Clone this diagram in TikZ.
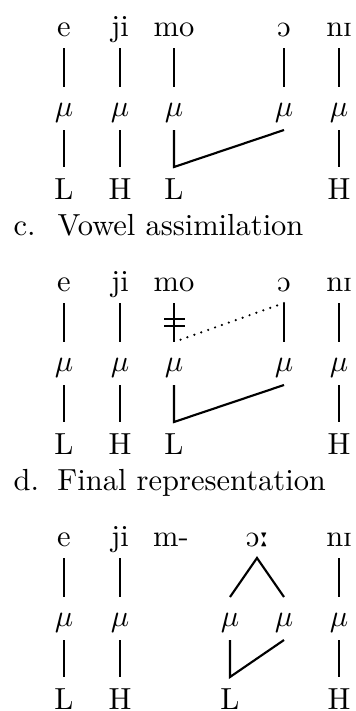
\documentclass[tikz,border=0pt]{standalone}
\usepackage{tipa}
\usetikzlibrary{calc}
\begin{document}
\begin{tikzpicture}[x=0.328pt,y=-0.328pt,
  txt/.style={anchor=base,inner sep=0pt},
  captxt/.style={anchor=base west,inner sep=0pt},
  assoc/.style={line width=0.7pt},
  delinked/.style={line width=0.8pt,line cap=round,dash pattern=on 0pt off 2.4pt}]
\useasboundingbox (0,0) rectangle (355,711);
% ---------------- block 1 ----------------
\foreach \n/\x/\t in {a/64/e,b/120/ji,c/174/mo,d/284/\textipa{O},e/339/n\textipa{I}}
  \node[txt] (s1\n) at (\x,36) {\t};
\foreach \n/\x in {a/64,b/120,c/174,d/284,e/339}
  \node[txt] (m1\n) at (\x,116) {$\mu$};
\foreach \n/\x/\t in {a/64/L,b/120/H,c/174/L,e/339/H}
  \node[txt] (t1\n) at (\x,199) {\t};
\foreach \n in {a,b,c,d,e}
  \draw[assoc] ($(s1\n.base)+(0,12)$) -- ($(m1\n.base)+(0,-29)$);
\foreach \n in {a,b,e}
  \draw[assoc] ($(m1\n.base)+(0,14)$) -- ($(t1\n.base)+(0,-32)$);
\draw[assoc] ($(m1d.base)+(0,14)$) -- ($(t1c.base)+(0,-32)$) -- ($(m1c.base)+(0,14)$);
\node[captxt] (capc) at (13,235) {\makebox[14.4pt][l]{c.}Vowel assimilation};
% ---------------- block 2 ----------------
\foreach \n/\x/\t in {a/64/e,b/120/ji,c/174/mo,d/284/\textipa{O},e/339/n\textipa{I}}
  \node[txt] (s2\n) at (\x,291) {\t};
\foreach \n/\x in {a/64,b/120,c/174,d/284,e/339}
  \node[txt] (m2\n) at (\x,371) {$\mu$};
\foreach \n/\x/\t in {a/64/L,b/120/H,c/174/L,e/339/H}
  \node[txt] (t2\n) at (\x,454) {\t};
\foreach \n in {a,b,c,d,e}
  \draw[assoc] ($(s2\n.base)+(0,12)$) -- ($(m2\n.base)+(0,-29)$);
\foreach \n in {a,b,e}
  \draw[assoc] ($(m2\n.base)+(0,14)$) -- ($(t2\n.base)+(0,-32)$);
\draw[assoc] ($(m2d.base)+(0,14)$) -- ($(t2c.base)+(0,-32)$) -- ($(m2c.base)+(0,14)$);
\draw[delinked] ($(s2d.base)+(0,12)$) -- ($(m2c.base)+(0,-29)$);
\draw[assoc] ($(s2c.base)+(-10,28)$) -- ++(21,0);
\draw[assoc] ($(s2c.base)+(-10,35)$) -- ++(21,0);
\node[captxt] (capd) at (13,490) {\makebox[14.4pt][l]{d.}Final representation};
% ---------------- block 3 ----------------
\foreach \n/\x/\t in {a/64/e,b/120/ji,c/171/m-,d/257/\textipa{O:},e/339/n\textipa{I}}
  \node[txt] (s3\n) at (\x,546) {\t};
\foreach \n/\x in {a/64,b/120,c/230,d/284,e/339}
  \node[txt] (m3\n) at (\x,626) {$\mu$};
\foreach \n/\x/\t in {a/64/L,b/120/H,c/230/L,e/339/H}
  \node[txt] (t3\n) at (\x,709) {\t};
\foreach \n in {a,b,e}
  \draw[assoc] ($(s3\n.base)+(0,12)$) -- ($(m3\n.base)+(0,-29)$);
\draw[assoc] ($(m3c.base)+(0,-29)$) -- ($(s3d.base)+(0,12)$) -- ($(m3d.base)+(0,-29)$);
\foreach \n in {a,b,e}
  \draw[assoc] ($(m3\n.base)+(0,14)$) -- ($(t3\n.base)+(0,-32)$);
\draw[assoc] ($(m3d.base)+(0,14)$) -- ($(t3c.base)+(0,-32)$) -- ($(m3c.base)+(0,14)$);
\end{tikzpicture}
\end{document}
